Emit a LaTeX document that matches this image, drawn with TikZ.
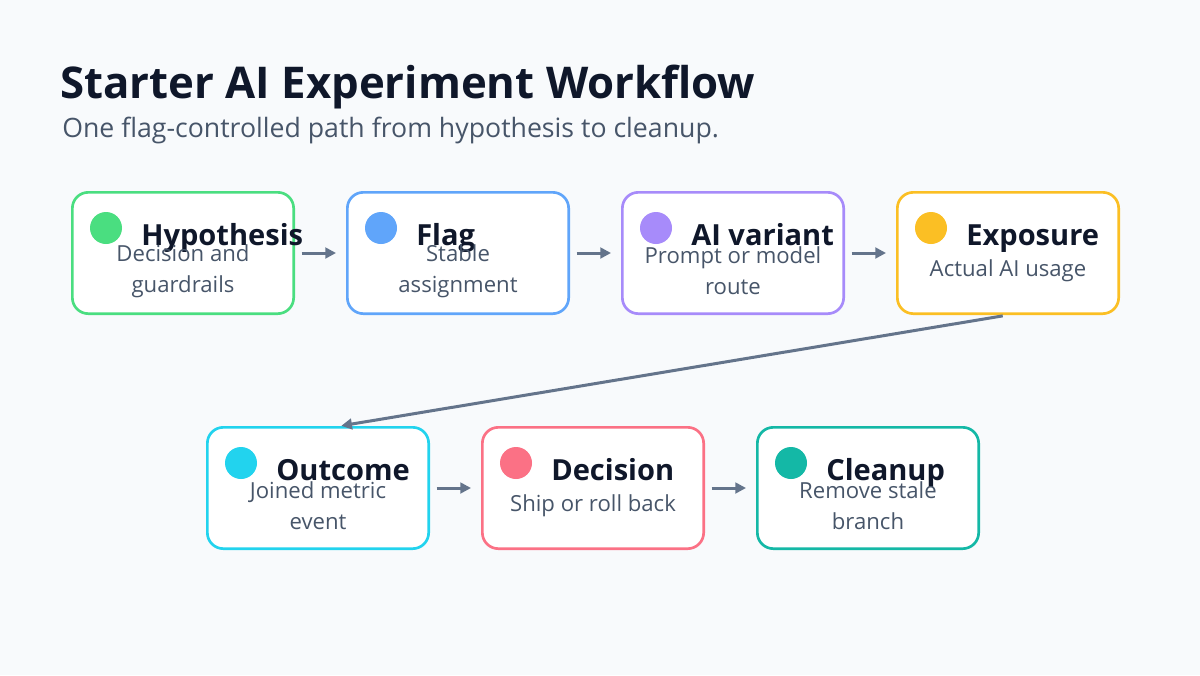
\documentclass[tikz,border=0pt]{standalone}
\usepackage{fontspec}
\setmainfont{Open Sans}
\usetikzlibrary{positioning,arrows.meta,calc}
\definecolor{paper}{HTML}{F8FAFC}
\definecolor{ink}{HTML}{0F172A}
\definecolor{slate}{HTML}{475569}
\definecolor{arrowInk}{HTML}{64748B}
\definecolor{hypGreen}{HTML}{4ADE80}
\definecolor{flagBlue}{HTML}{60A5FA}
\definecolor{aiPurple}{HTML}{A78BFA}
\definecolor{expAmber}{HTML}{FBBF24}
\definecolor{outCyan}{HTML}{22D3EE}
\definecolor{decRose}{HTML}{FB7185}
\definecolor{cleanTeal}{HTML}{14B8A6}

\begin{document}
\begin{tikzpicture}[
  x=0.75pt, y=-0.75pt,
  card/.style={
    rectangle, rounded corners=12pt,
    line width=2pt,
    fill=white,
    minimum width=166pt,
    minimum height=91pt,
    inner sep=0pt
  },
  dot/.style={
    circle, inner sep=0pt,
    minimum size=24pt
  },
  cardTitle/.style={
    inner sep=0pt,
    font=\fontsize{21.8}{26}\selectfont\bfseries,
    text=ink
  },
  cardBody/.style={
    inner sep=0pt,
    align=center,
    font=\fontsize{16.6}{23.25}\selectfont,
    text=slate
  },
  flowArrow/.style={
    -{Triangle[length=8pt,width=8pt]},
    line width=2.25pt,
    draw=arrowInk
  }
]

% One card: name, centre, colour, title, body
\newcommand{\stepCard}[5]{%
  \node[card, draw=#3] (#1) at #2 {};
  \node[dot, fill=#3] (#1-dot) at ($(#1.north west)+(35,37)$) {};
  \node[cardTitle, anchor=base west] (#1-title) at ($(#1.north west)+(70,54)$) {#4};
  \node[cardBody] (#1-body) at ($(#1.center)+(0,18)$) {#5};
}

% Page and fixed bounding box
\fill[paper] (0,0) rectangle (1200,675);
\useasboundingbox (0,0) rectangle (1200,675);

% Heading
\node[anchor=base west, inner sep=0pt, text=ink,
  font=\fontsize{32.8}{38}\selectfont\bfseries] (title) at (60,98)
  {Starter AI Experiment Workflow};
\node[anchor=base west, inner sep=0pt, text=slate,
  font=\fontsize{20}{24}\selectfont] (subtitle) at (62,137)
  {One flag-controlled path from hypothesis to cleanup.};

% Top row
\stepCard{hyp}{(183,253)}{hypGreen}{Hypothesis}{Decision and\\guardrails}
\stepCard{flag}{(458,253)}{flagBlue}{Flag}{Stable\\assignment}
\stepCard{variant}{(733,253)}{aiPurple}{AI variant}{Prompt or model\\route}
\stepCard{exposure}{(1008,253)}{expAmber}{Exposure}{Actual AI usage}

% Bottom row
\stepCard{outcome}{(318,488)}{outCyan}{Outcome}{Joined metric\\event}
\stepCard{decision}{(593,488)}{decRose}{Decision}{Ship or roll back}
\stepCard{cleanup}{(868,488)}{cleanTeal}{Cleanup}{Remove stale\\branch}

% Flow arrows
\draw[flowArrow, shorten <=5pt, shorten >=7.5pt] (hyp.east) -- (flag.west);
\draw[flowArrow, shorten <=5pt, shorten >=7.5pt] (flag.east) -- (variant.west);
\draw[flowArrow, shorten <=5pt, shorten >=7.5pt] (variant.east) -- (exposure.west);
\draw[flowArrow, shorten <=4pt, shorten >=1pt] (exposure.south) -- ([xshift=16.5pt]outcome.north);
\draw[flowArrow, shorten <=5pt, shorten >=7.5pt] (outcome.east) -- (decision.west);
\draw[flowArrow, shorten <=5pt, shorten >=7.5pt] (decision.east) -- (cleanup.west);

\end{tikzpicture}
\end{document}
